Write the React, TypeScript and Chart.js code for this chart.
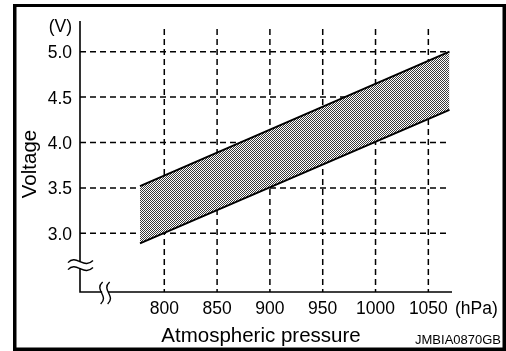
import React, { useEffect, useRef } from "react";
import { Chart, registerables } from "chart.js";

Chart.register(...registerables);

// ---- data ----
const pressureRange = [777, 1070]; // hPa, band start / end
const upperVoltage = [3.52, 5.0];
const lowerVoltage = [2.89, 4.36];
const xTicks = [800, 850, 900, 950, 1000, 1050];
const xTickLabels = ["800", "850", "900", "950", "1000", "1050"];
const yTicks = [3.0, 3.5, 4.0, 4.5, 5.0];
const yTickLabels = ["3.0", "3.5", "4.0", "4.5", "5.0"];
const xAxisTitle = "Atmospheric pressure";
const yAxisTitle = "Voltage";
const xUnit = "(hPa)";
const yUnit = "(V)";
const figureCode = "JMBIA0870GB";

// axis ranges
const xMin = 720.2;
const xMax = 1072.4;
const yMin = 2.354;
const yMax = 5.338;
const vGridTop = 5.25;
const yBreakValue = 2.65;
const xBreakValue = 744;

const FONT = '"Liberation Sans", Arial, Helvetica, sans-serif';

const decor = {
  id: "decor",
  beforeDatasetsDraw(chart: any) {
    const { ctx, chartArea: a, scales } = chart;
    const x = scales.x;
    const y = scales.y;
    ctx.save();
    ctx.strokeStyle = "#000";
    ctx.lineWidth = 1.5;
    ctx.setLineDash([6, 4]);
    const xEnd = x.getPixelForValue(pressureRange[1]);
    yTicks.forEach((v) => {
      const py = y.getPixelForValue(v);
      ctx.beginPath();
      ctx.moveTo(a.left, py);
      ctx.lineTo(xEnd, py);
      ctx.stroke();
    });
    const top = y.getPixelForValue(vGridTop);
    xTicks.forEach((v) => {
      const px = x.getPixelForValue(v);
      ctx.beginPath();
      ctx.moveTo(px, top);
      ctx.lineTo(px, a.bottom);
      ctx.stroke();
    });
    ctx.restore();
  },
  afterDatasetsDraw(chart: any) {
    const { ctx, chartArea: a, scales } = chart;
    const x = scales.x;
    const y = scales.y;
    ctx.save();
    ctx.setLineDash([]);
    ctx.strokeStyle = "#000";
    ctx.fillStyle = "#000";
    ctx.lineWidth = 1.6;
    // axes
    ctx.beginPath();
    ctx.moveTo(a.left, a.top);
    ctx.lineTo(a.left, a.bottom);
    ctx.lineTo(a.right, a.bottom);
    ctx.stroke();

    // y-axis break
    const by = y.getPixelForValue(yBreakValue);
    ctx.fillStyle = "#fff";
    ctx.fillRect(a.left - 2, by - 3, 4, 6);
    ctx.strokeStyle = "#000";
    ctx.lineWidth = 1.4;
    [-3.5, 3.5].forEach((d) => {
      const yy = by + d;
      const x0 = a.left - 12;
      ctx.beginPath();
      ctx.moveTo(x0, yy + 1);
      ctx.bezierCurveTo(x0 + 8, yy - 8, x0 + 16, yy + 8, x0 + 25, yy - 1);
      ctx.stroke();
    });

    // x-axis break
    const bx = x.getPixelForValue(xBreakValue);
    ctx.fillStyle = "#fff";
    ctx.fillRect(bx - 3, a.bottom - 2, 6, 4);
    [-3.5, 3.5].forEach((d) => {
      const xx = bx + d;
      const y0 = a.bottom - 10;
      ctx.beginPath();
      ctx.moveTo(xx + 1, y0);
      ctx.bezierCurveTo(xx - 8, y0 + 8, xx + 8, y0 + 14, xx - 1, y0 + 22);
      ctx.stroke();
    });

    // tick labels
    ctx.fillStyle = "#000";
    ctx.font = `17.5px ${FONT}`;
    ctx.textBaseline = "alphabetic";
    ctx.textAlign = "right";
    yTicks.forEach((v, i) => {
      ctx.fillText(yTickLabels[i], a.left - 8, y.getPixelForValue(v) + 6.5);
    });
    ctx.fillText(yUnit, a.left - 8, a.top + 10.5);
    ctx.textAlign = "center";
    xTicks.forEach((v, i) => {
      ctx.fillText(xTickLabels[i], x.getPixelForValue(v), a.bottom + 22);
    });
    ctx.textAlign = "left";
    ctx.fillText(xUnit, a.right + 3, a.bottom + 22);

    // titles
    ctx.font = `20.5px ${FONT}`;
    ctx.textAlign = "center";
    ctx.fillText(xAxisTitle, 261, a.bottom + 50);
    ctx.save();
    ctx.translate(36, 164);
    ctx.rotate(-Math.PI / 2);
    ctx.fillText(yAxisTitle, 0, 0);
    ctx.restore();

    // figure code
    ctx.font = `13px ${FONT}`;
    ctx.textAlign = "right";
    ctx.fillText(figureCode, 501, 344);

    // frame
    ctx.fillStyle = "#000";
    ctx.fillRect(13, 4, 3.5, 347);
    ctx.fillRect(13, 4, 493, 3);
    ctx.fillRect(502.5, 4, 3.5, 347);
    ctx.fillRect(13, 347.5, 493, 3.5);
    ctx.restore();
  },
};

export default function App() {
  const ref = useRef<HTMLCanvasElement>(null);
  useEffect(() => {
    document.body.style.margin = "0";
    const canvas = ref.current!;
    const ctx = canvas.getContext("2d")!;
    const pc = document.createElement("canvas");
    pc.width = 2;
    pc.height = 2;
    const pctx = pc.getContext("2d")!;
    pctx.fillStyle = "#fff";
    pctx.fillRect(0, 0, 2, 2);
    pctx.fillStyle = "#3a3a3a";
    pctx.fillRect(0, 0, 1, 1);
    pctx.fillRect(1, 1, 1, 1);
    const pattern = ctx.createPattern(pc, "repeat")!;

    const chart = new Chart(canvas, {
      type: "line",
      data: {
        datasets: [
          {
            data: pressureRange.map((p, i) => ({ x: p, y: lowerVoltage[i] })),
            borderColor: "#000",
            borderWidth: 2,
            pointRadius: 0,
            fill: false,
            tension: 0,
          },
          {
            data: pressureRange.map((p, i) => ({ x: p, y: upperVoltage[i] })),
            borderColor: "#000",
            borderWidth: 2,
            pointRadius: 0,
            fill: "-1",
            backgroundColor: pattern as any,
            tension: 0,
          },
        ],
      },
      options: {
        animation: false,
        responsive: false,
        devicePixelRatio: 1,
        events: [],
        layout: { padding: { left: 80, top: 21, right: 54, bottom: 59 } },
        scales: {
          x: { type: "linear", min: xMin, max: xMax, display: false },
          y: { type: "linear", min: yMin, max: yMax, display: false },
        },
        plugins: { legend: { display: false }, tooltip: { enabled: false } },
      },
      plugins: [decor as any],
    });
    return () => chart.destroy();
  }, []);
  return <canvas ref={ref} width={506} height={351} style={{ display: "block" }} />;
}
